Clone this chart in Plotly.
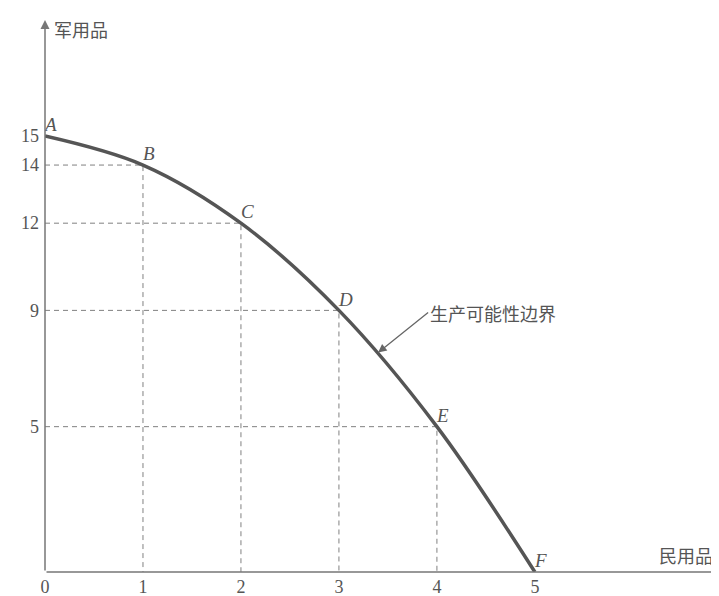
import plotly.graph_objects as go

# production possibility table
points = ["A", "B", "C", "D", "E", "F"]
civilian = [0, 1, 2, 3, 4, 5]
military = [15, 14, 12, 9, 5, 0]

x_ticks = [0, 1, 2, 3, 4, 5]
y_ticks = [5, 9, 12, 14, 15]

x_title = "民用品"
y_title = "军用品"
curve_name = "生产可能性边界"

x_max = 6.92
y_max = 18.99

serif = "Liberation Serif, Times New Roman, serif"
cjk = "Noto Sans CJK SC, sans-serif"

fig = go.Figure()

# dashed guide lines from each interior point to both axes
for cx, my in zip(civilian[1:-1], military[1:-1]):
    fig.add_trace(go.Scatter(
        x=[0, cx, cx], y=[my, my, 0],
        mode="lines",
        line=dict(color="#808080", width=1, dash="5px,4px"),
        hoverinfo="skip", showlegend=False,
    ))

# the frontier
fig.add_trace(go.Scatter(
    x=civilian, y=military,
    mode="lines+text",
    line=dict(color="#555555", width=3.5, shape="spline"),
    text=points,
    textposition="top right",
    textfont=dict(family=serif, size=19, color="#555555", style="italic"),
    showlegend=False,
))

# axes with arrow heads
fig.add_annotation(x=x_max, y=0, ax=0, ay=0, xref="x", yref="y", axref="x", ayref="y",
                   text="", showarrow=True, arrowhead=2, arrowsize=1.2, arrowwidth=1.5,
                   arrowcolor="#777777")
fig.add_annotation(x=0, y=y_max, ax=0, ay=0, xref="x", yref="y", axref="x", ayref="y",
                   text="", showarrow=True, arrowhead=2, arrowsize=1.2, arrowwidth=1.5,
                   arrowcolor="#777777")

fig.add_annotation(x=0, y=y_max, xref="x", yref="y", text=y_title, showarrow=False,
                   xanchor="left", yanchor="top", xshift=7, yshift=6,
                   font=dict(family=cjk, size=18, color="#555555"))
fig.add_annotation(x=x_max, y=0, xref="x", yref="y", text=x_title, showarrow=False,
                   xanchor="right", yanchor="bottom", xshift=-8, yshift=2,
                   font=dict(family=cjk, size=18, color="#555555"))

# label for the curve
fig.add_annotation(x=3.4, y=7.55, xref="x", yref="y", text=curve_name,
                   showarrow=True, ax=50, ay=-40, xanchor="left", yanchor="middle",
                   arrowhead=2, arrowsize=1.3, arrowwidth=1.3, arrowcolor="#666666",
                   font=dict(family=cjk, size=18, color="#555555"))

fig.update_layout(
    width=719, height=596,
    margin=dict(l=37, r=4, t=12, b=32),
    paper_bgcolor="white", plot_bgcolor="white",
    xaxis=dict(range=[0, x_max], tickvals=x_ticks, showgrid=False, zeroline=False,
               showline=False, ticks="", ticklabelstandoff=2,
               tickfont=dict(family=serif, size=18, color="#555555")),
    yaxis=dict(range=[0, y_max], tickvals=y_ticks, showgrid=False, zeroline=False,
               showline=False, ticks="", ticklabelstandoff=5,
               tickfont=dict(family=serif, size=18, color="#555555")),
)

fig.write_html("out.html")
